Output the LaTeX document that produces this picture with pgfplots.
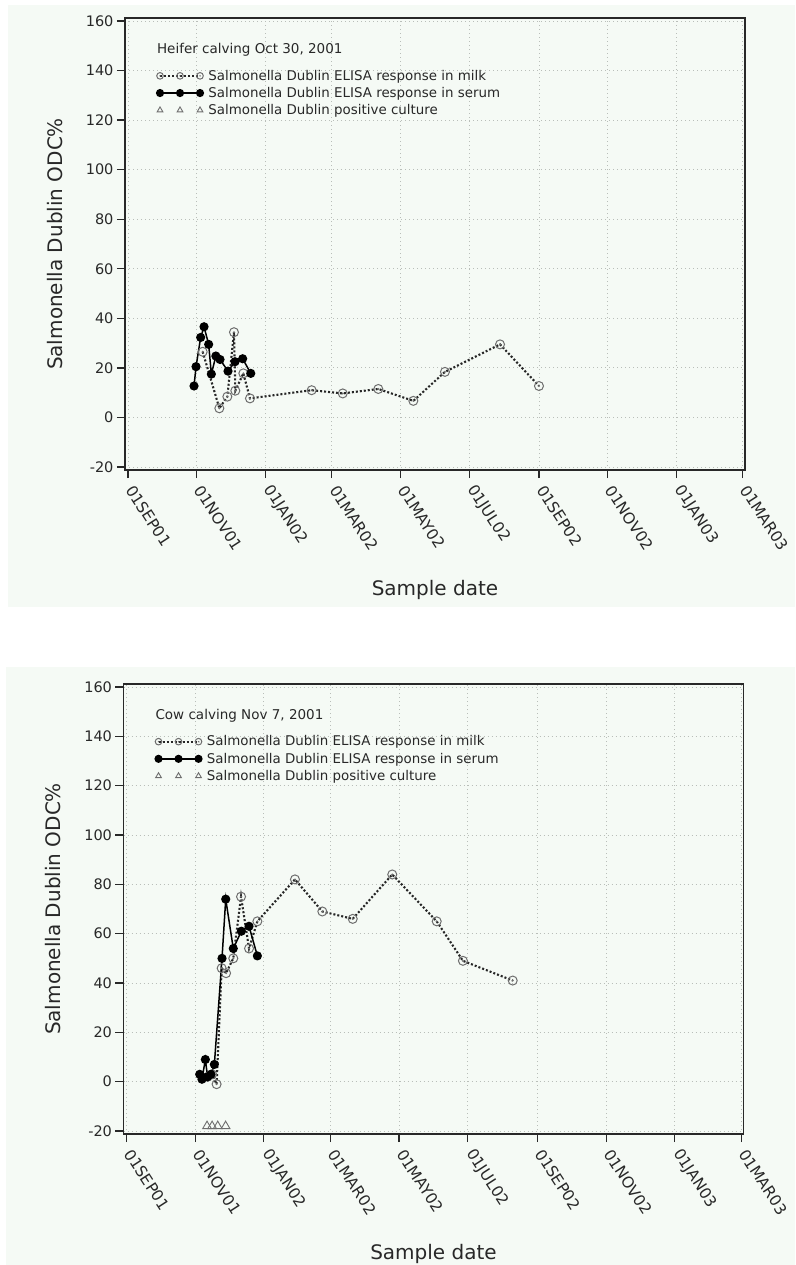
\documentclass[border=0pt]{standalone}
\usepackage{fontspec}
\setmainfont{DejaVu Sans}
\usepackage{pgfplots}
\pgfplotsset{compat=1.18}
\definecolor{panel}{RGB}{245,250,245}
\definecolor{txt}{RGB}{40,40,40}
\definecolor{gridc}{RGB}{185,190,185}
\definecolor{markc}{RGB}{110,110,110}
\pgfdeclareplotmark{odot}{%
  \pgfpathcircle{\pgfpointorigin}{\pgfplotmarksize}\pgfusepathqstroke
  \pgfpathcircle{\pgfpointorigin}{0.25\pgfplotmarksize}\pgfusepathqfill}
\pgfplotsset{
  myaxis/.style={
    scale only axis, width=620pt,
    xmin=-2.7, xmax=548, ymin=-21.2, ymax=161.2,
    xtick={0,61,122,181,242,303,365,426,487,546},
    xticklabels={01SEP01,01NOV01,01JAN02,01MAR02,01MAY02,01JUL02,01SEP02,01NOV02,01JAN03,01MAR03},
    ytick={-20,0,...,160},
    tick align=outside, tick pos=left,
    major tick length=8pt,
    every tick/.style={line width=1.2pt, color=txt},
    axis line style={line width=1.5pt, color=txt},
    grid=major,
    major grid style={gridc, line width=0.9pt, dash pattern=on 1pt off 3pt},
    tick label style={font=\fontsize{14.5}{17}\selectfont, text=txt},
    x tick label style={rotate=-57, anchor=west, font=\fontsize{15.5}{18}\selectfont},
    xticklabel shift=6pt,
    /pgf/number format/assume math mode=true,
    xlabel={Sample date}, ylabel={Salmonella Dublin ODC\%},
    every axis x label/.style={at={(rel axis cs:0.5,0)}, anchor=center, yshift=-120pt, font=\fontsize{20}{24}\selectfont, text=txt},
    every axis y label/.style={at={(axis description cs:-0.113,0.5)}, anchor=center, rotate=90, font=\fontsize{20}{24}\selectfont, text=txt},
    axis background/.style={fill=panel},
    legend style={at={(rel axis cs:0.046,0.892)}, anchor=north west, draw=none, fill=none,
      font=\fontsize{13.4}{16}\selectfont, text=txt, row sep=3.5pt, column sep=4pt, nodes={inner sep=1pt}},
    legend cell align=left,
    legend image code/.code={\draw[mark repeat=1,mark phase=1,#1,mark size=3.3pt] plot coordinates {(0pt,0pt) (20pt,0pt) (40pt,0pt)};},
  },
  milk/.style={black!85, line width=2.1pt, dash pattern=on 2pt off 2pt, mark=odot, mark size=4.5pt,
    mark options={solid, draw=markc, fill=markc, line width=1pt}},
  serum/.style={black, line width=1.5pt, solid, mark=*, mark size=3.8pt, mark options={solid, fill=black}},
  culture/.style={only marks, mark=triangle, mark size=5pt, mark options={draw=markc, line width=0.9pt}},
}
\begin{document}
\begin{tikzpicture}
\useasboundingbox (0pt,0pt) rectangle (795pt,-1265pt);
\fill[white] (0pt,0pt) rectangle (795pt,-1265pt);
\fill[panel] (8pt,-5pt) rectangle (795pt,-607pt);
\fill[panel] (6pt,-667pt) rectangle (795pt,-1265pt);

\begin{axis}[myaxis, at={(125pt,-470pt)}, anchor=south west, height=452pt]
\addplot[milk] coordinates {
(66.3,26.5) (81.1,3.7) (88.2,8.4) (94.1,34.4) (95.3,10.8) (102.4,17.8) (108.3,7.7)
(163.1,11) (190.7,9.7) (222.3,11.5) (253.4,6.7) (281.5,18.4) (330.4,29.5) (365,12.7)};
\addlegendentry{Salmonella Dublin ELISA response in milk}
\addplot[serum] coordinates {
(58.6,12.7) (60.4,20.5) (64.5,32.3) (67.5,36.6) (71.6,29.5) (74,17.5) (78,24.8)
(81.7,23.4) (88.8,18.7) (95,22.5) (101.8,23.7) (109,17.8)};
\addlegendentry{Salmonella Dublin ELISA response in serum}
\addlegendimage{culture}
\addlegendentry{Salmonella Dublin positive culture}
\node[anchor=west, font=\fontsize{13.5}{16}\selectfont, text=txt] at (rel axis cs:0.046,0.929) {Heifer calving Oct 30, 2001};
\end{axis}

\begin{axis}[myaxis, at={(123.5pt,-1134pt)}, anchor=south west, height=450pt]
\addplot[milk] coordinates {
(72,2) (76,3) (80,-1) (84.5,46) (88.4,44) (94.8,50) (101.7,75) (108.8,54) (116.2,65)
(149.6,82) (173.9,69) (200.9,66) (236,84) (275.5,65) (298.8,49) (343,41)};
\addlegendentry{Salmonella Dublin ELISA response in milk}
\addplot[serum] coordinates {
(65,3) (67,1) (70,9) (72,2) (75,3) (78,7) (84.8,50) (88.1,74) (94.8,54) (102,61) (108.8,63) (116.2,51)};
\addlegendentry{Salmonella Dublin ELISA response in serum}
\addplot[culture] coordinates {(71.5,-18) (76,-18) (81,-18) (88,-18)};
\addlegendentry{Salmonella Dublin positive culture}
\node[anchor=west, font=\fontsize{13.5}{16}\selectfont, text=txt] at (rel axis cs:0.046,0.929) {Cow calving Nov 7, 2001};
\end{axis}
\end{tikzpicture}
\end{document}
